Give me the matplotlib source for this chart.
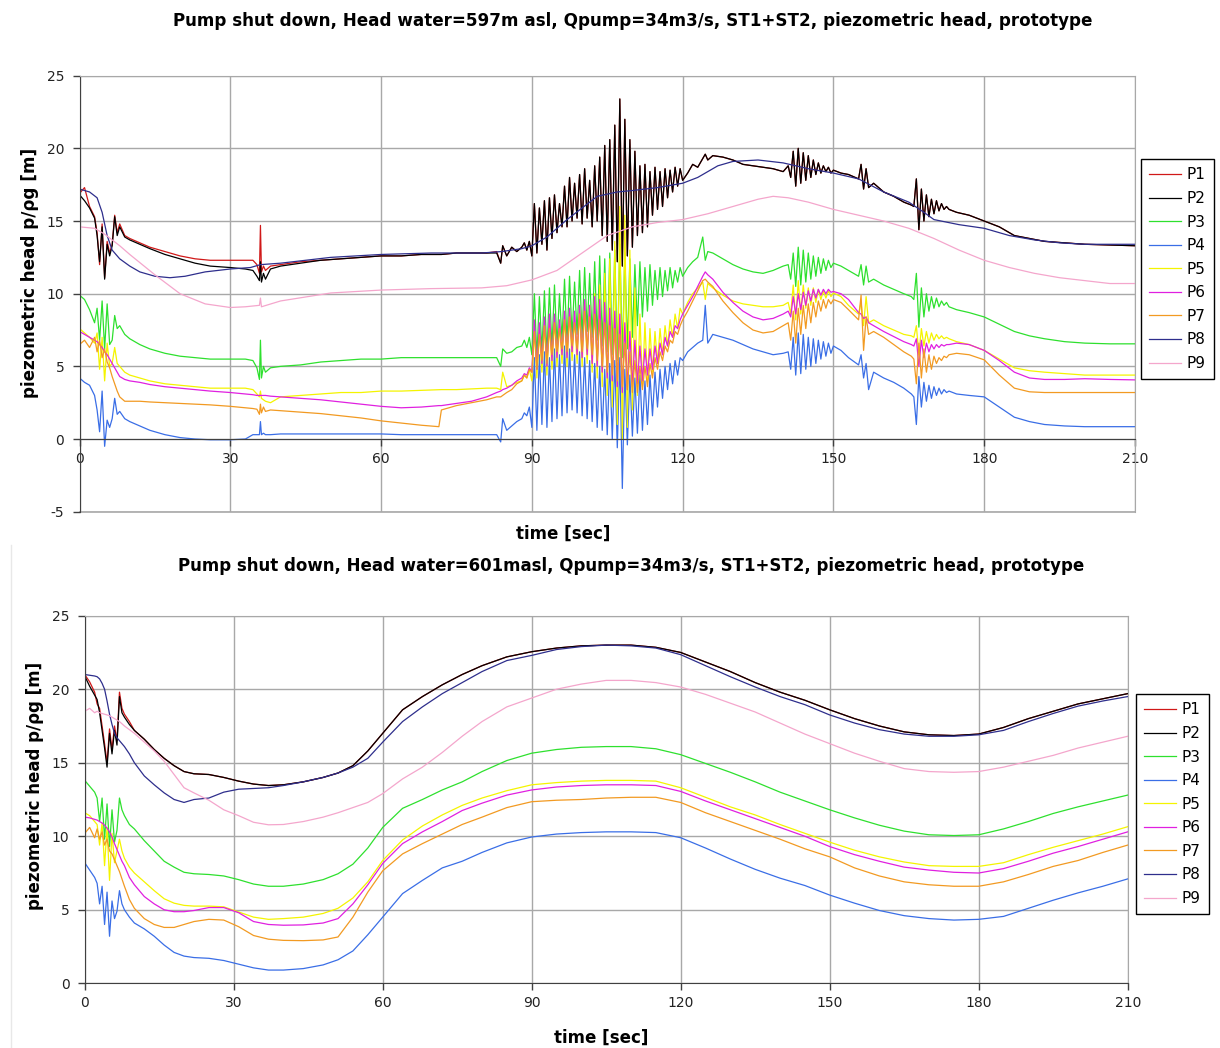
import matplotlib.pyplot as plt
from matplotlib.lines import Line2D

plt.rcParams['font.family'] = ['DejaVu Sans']
plt.rcParams['axes.unicode_minus'] = False

names = ['P1', 'P2', 'P3', 'P4', 'P5', 'P6', 'P7', 'P8', 'P9']
colors = ['#d01818', '#000000', '#2ee02e', '#3a6ee6', '#f4f400',
          '#e020e0', '#f29a22', '#2e2e8c', '#f4a6cc']

# ---------------- upper chart: head water 597 m asl ----------------
# shared time axis for P1..P7 (dense where the signals oscillate)
t_top = [0, 1, 2, 3, 3.5, 4, 4.5, 5, 5.5, 6, 6.5, 7, 7.5, 8, 9,
         10, 12, 14, 17, 20, 23, 26, 30, 33, 34.5,
         35.3, 35.8, 36.0, 36.2, 36.6, 37, 38,
         40, 44, 48, 52, 56, 60, 64, 68, 71.5, 72, 75, 78, 81, 83,
         83.8, 84.2, 85, 86, 87,
         88, 88.5, 89, 89.5, 90, 90.5, 91, 91.5, 92,
         92.5, 93, 93.5, 94, 94.5, 95, 95.5, 96, 96.5,
         97, 97.5, 98, 98.5, 99, 99.5, 100, 100.5, 101,
         101.5, 102, 102.5, 103, 103.5, 104, 104.5, 105, 105.5,
         106, 106.5, 107, 107.5, 108, 108.5, 109, 109.5, 110,
         110.5, 111, 111.5, 112, 112.5, 113, 113.5, 114, 114.5,
         115, 115.5, 116, 116.5, 117, 117.5, 118, 118.5, 119,
         119.5, 120,
         121, 122, 123, 124, 124.5, 125, 126, 128, 130, 132, 134, 136, 138, 140,
         141, 141.5, 142, 142.5, 143, 143.5, 144, 144.5, 145, 145.5,
         146, 146.5, 147, 147.5, 148, 148.5, 149, 149.5, 150,
         151.5, 153, 155, 155.5, 156, 156.5, 157, 158, 160, 162, 164, 165.5,
         166, 166.5, 167, 167.5, 168, 168.5, 169, 169.5, 170, 170.5, 171, 171.5,
         172, 172.5, 173,
         174.5, 177, 180, 183, 186, 189, 192, 196, 200, 205, 210]

p2_top = [16.8, 16.4, 15.9, 15.2, 14.0, 12.2, 14.6, 11.0, 13.4, 12.6, 13.3, 15.3, 14.0, 14.6, 13.9,
          13.7, 13.4, 13.1, 12.7, 12.4, 12.1, 11.9, 11.8, 11.7, 11.6,
          11.2, 10.9, 12.2, 10.8, 11.4, 11.0, 11.7,
          11.9, 12.1, 12.3, 12.4, 12.5, 12.6, 12.6, 12.7, 12.7, 12.7, 12.8, 12.8, 12.8, 12.8,
          12.1, 13.3, 12.6, 13.2, 12.9,
          13.2, 13.5, 13.0, 13.6, 12.6, 16.2, 12.8, 15.9, 13.4,
          16.4, 13.0, 16.6, 13.8, 16.8, 14.2, 16.2, 14.6, 17.4,
          14.6, 18.0, 15.0, 17.6, 15.2, 18.2, 14.8, 18.6, 15.2,
          17.8, 14.6, 18.8, 15.0, 19.4, 14.0, 20.2, 13.6, 20.6,
          13.0, 21.6, 12.2, 23.4, 11.9, 22.0, 12.6, 20.6, 13.2,
          19.8, 14.0, 18.8, 14.2, 18.9, 14.6, 18.4, 15.4, 18.7,
          15.8, 18.4, 16.0, 18.6, 16.6, 18.5, 17.0, 18.7, 17.4,
          18.6, 17.8,
          18.3, 18.9, 18.7, 19.3, 19.6, 19.2, 19.5, 19.4, 19.2, 18.9, 18.8, 18.7, 18.6, 18.4,
          18.8, 18.0, 19.8, 17.4, 20.0, 17.6, 19.7, 17.8, 19.5, 18.0,
          19.2, 18.2, 19.0, 18.3, 18.8, 18.4, 18.7, 18.3, 18.5,
          18.3, 18.2, 17.9, 18.9, 17.2, 18.6, 17.3, 17.6, 17.0, 16.7, 16.3, 16.1,
          16.0, 17.9, 14.4, 17.2, 15.0, 16.8, 15.3, 16.5, 15.5, 16.4, 15.7, 16.2,
          15.8, 16.0, 15.8,
          15.6, 15.4, 15.0, 14.6, 14.0, 13.8, 13.6, 13.5, 13.4, 13.35, 13.3]

# P1 differs from P2 only during the first 83 s, afterwards the two coincide
p1_top_start = [16.9, 17.3, 16.0, 15.3, 14.2, 12.0, 14.8, 11.1, 13.6, 12.8, 13.4, 15.4, 14.2, 14.8, 14.0,
                13.8, 13.5, 13.2, 12.9, 12.6, 12.4, 12.3, 12.3, 12.3, 12.3,
                12.0, 11.4, 14.7, 11.5, 11.9, 11.6, 11.9,
                12.0, 12.2, 12.3, 12.4, 12.5, 12.6, 12.6, 12.7, 12.7, 12.7, 12.8, 12.8, 12.8, 12.9]
p1_top = p1_top_start + p2_top[len(p1_top_start):]

p3_top = [9.9, 9.6, 8.9, 8.0, 9.0, 6.8, 9.5, 6.2, 9.3, 6.5, 6.8, 8.5, 7.6, 7.8, 7.2,
          6.9, 6.5, 6.2, 5.9, 5.7, 5.6, 5.5, 5.5, 5.5, 5.4,
          4.9, 4.1, 6.8, 4.2, 5.0, 4.6, 4.9,
          5.0, 5.1, 5.3, 5.4, 5.5, 5.5, 5.6, 5.6, 5.6, 5.6, 5.6, 5.6, 5.6, 5.6,
          5.0, 6.2, 5.9, 6.0, 6.3,
          6.4, 6.8, 6.3, 7.0, 5.8, 10.0, 5.6, 9.8, 6.0,
          10.2, 5.8, 10.4, 6.2, 10.6, 6.4, 10.0, 6.8, 11.0,
          6.6, 11.2, 7.0, 10.8, 7.2, 11.6, 7.0, 11.8, 7.4,
          11.4, 7.0, 12.2, 6.8, 12.6, 6.4, 12.4, 6.0, 12.8,
          5.8, 13.0, 5.4, 13.4, 5.6, 12.8, 6.2, 12.4, 7.0,
          12.0, 7.8, 12.2, 8.4, 11.8, 8.8, 12.0, 9.2, 11.6,
          9.6, 11.8, 9.8, 11.6, 10.2, 11.8, 10.4, 11.6, 10.8,
          11.8, 11.2,
          11.8, 12.2, 12.5, 13.9, 12.3, 12.9, 12.8, 12.4, 12.0, 11.7, 11.5, 11.4, 11.6, 11.9,
          12.0, 11.0, 12.8, 10.5, 13.2, 10.6, 13.0, 10.8, 12.8, 11.0,
          12.6, 11.2, 12.5, 11.4, 12.4, 11.6, 12.3, 11.8, 12.1,
          11.9, 11.6, 11.2, 12.0, 10.6, 11.9, 10.8, 11.0, 10.6, 10.3, 10.0, 9.8,
          9.6, 11.4, 7.7, 10.4, 8.4, 10.0, 8.8, 9.8, 9.0, 9.7, 9.1, 9.5,
          9.2, 9.4, 9.1,
          8.9, 8.7, 8.4, 7.9, 7.4, 7.1, 6.9, 6.7, 6.6, 6.55, 6.55]

p4_top = [4.2, 3.9, 3.7, 3.0, 2.0, 0.5, 3.3, -0.5, 1.3, 0.8, 1.4, 2.8, 1.7, 1.9, 1.4,
          1.2, 0.9, 0.6, 0.3, 0.1, 0.0, -0.05, -0.05, 0.0, 0.3,
          0.3, 0.3, 1.2, 0.3, 0.4, 0.3, 0.3,
          0.35, 0.35, 0.35, 0.35, 0.35, 0.35, 0.3, 0.3, 0.3, 0.3, 0.3, 0.3, 0.3, 0.3,
          -0.2, 1.4, 0.6, 0.9, 1.2,
          1.4, 1.8, 1.6, 2.2, 0.8, 5.6, 0.6, 5.8, 1.0,
          6.0, 0.8, 5.6, 1.2, 6.2, 1.4, 5.8, 1.6, 6.4,
          1.8, 6.2, 2.0, 5.8, 1.8, 6.0, 1.6, 5.6, 1.4,
          5.4, 1.2, 5.2, 0.8, 5.0, 0.6, 4.8, 0.3, 5.2,
          0.0, 5.4, -0.6, 5.6, -3.4, 4.8, -0.4, 4.4, 0.2,
          4.2, 0.4, 4.4, 0.6, 4.0, 1.0, 4.4, 1.6, 4.6,
          2.2, 4.8, 2.8, 5.0, 3.4, 5.2, 3.8, 5.4, 4.4,
          5.6, 5.4,
          6.0, 6.3, 6.6, 6.8, 9.2, 6.6, 7.2, 7.0, 6.8, 6.5, 6.2, 6.0, 5.8, 5.9,
          6.0, 4.8, 7.0, 4.4, 7.3, 4.5, 7.2, 4.8, 7.0, 5.0,
          6.9, 5.2, 6.8, 5.5, 6.7, 5.7, 6.6, 5.9, 6.4,
          6.1, 5.6, 5.1, 5.8, 4.2, 5.2, 3.4, 4.6, 4.2, 3.9, 3.5, 3.1,
          2.9, 1.0, 4.3, 2.2, 3.9, 2.6, 3.7, 2.8, 3.6, 3.0, 3.5, 3.1,
          3.4, 3.2, 3.3,
          3.1, 3.0, 2.9, 2.2, 1.5, 1.2, 1.0, 0.9, 0.85, 0.85, 0.85]

p5_top = [7.6, 7.3, 7.0, 6.6, 7.3, 4.8, 7.0, 4.0, 6.6, 5.0, 5.2, 6.3, 5.2, 5.0, 4.6,
          4.4, 4.2, 4.0, 3.8, 3.7, 3.6, 3.5, 3.5, 3.5, 3.4,
          3.1, 2.9, 3.3, 2.8, 2.7, 2.6, 2.5,
          2.9, 3.0, 3.1, 3.2, 3.2, 3.3, 3.3, 3.35, 3.4, 3.4, 3.4, 3.45, 3.5, 3.5,
          3.4, 4.6, 3.6, 3.7, 3.9,
          4.0, 4.4, 4.2, 4.8, 4.0, 7.6, 4.2, 7.4, 4.6,
          7.8, 4.4, 8.0, 4.8, 8.2, 5.0, 7.8, 5.2, 8.4,
          5.0, 8.6, 5.4, 8.4, 5.2, 9.0, 5.0, 9.4, 5.2,
          9.2, 4.6, 10.0, 4.2, 10.6, 3.6, 11.4, 3.0, 12.4,
          2.2, 13.6, 1.0, 16.0, 0.0, 15.4, 0.8, 13.0, 2.0,
          10.4, 3.0, 8.6, 3.6, 8.0, 4.0, 7.6, 4.6, 7.4,
          5.2, 7.6, 5.8, 7.8, 6.4, 8.2, 7.0, 8.6, 7.6,
          9.0, 8.6,
          9.4, 10.0, 10.4, 10.8, 9.6, 10.7, 10.4, 9.9, 9.5, 9.3, 9.2, 9.1, 9.1, 9.2,
          9.4, 8.6, 10.6, 8.2, 10.9, 8.6, 10.6, 9.0, 10.4, 9.2,
          10.4, 9.4, 10.3, 9.6, 10.2, 9.7, 10.2, 9.8, 10.05,
          9.8, 9.2, 8.6, 9.4, 7.8, 9.8, 8.0, 8.2, 7.8, 7.5, 7.2, 7.1,
          7.0, 7.8, 5.8, 7.6, 6.4, 7.4, 6.6, 7.3, 6.8, 7.2, 6.9, 7.1,
          6.9, 7.0, 6.9,
          6.7, 6.5, 6.1, 5.5, 4.9, 4.7, 4.6, 4.5, 4.4, 4.4, 4.4]

p6_top = [7.4, 7.2, 7.0, 6.8, 6.7, 6.5, 6.3, 6.0, 5.8, 5.5, 5.2, 4.9, 4.6, 4.3, 4.1,
          4.0, 3.9, 3.75, 3.6, 3.5, 3.4, 3.3, 3.2, 3.1, 3.05,
          3.0, 3.0, 3.0, 3.0, 3.0, 3.0, 2.95,
          2.9, 2.8, 2.7, 2.55, 2.4, 2.25, 2.15, 2.2, 2.3, 2.3, 2.45, 2.6, 2.9, 3.2,
          3.3, 3.4, 3.5, 3.7, 4.0,
          4.2, 4.5, 4.4, 4.9, 4.6, 8.2, 4.8, 8.0, 5.2,
          8.4, 5.0, 8.6, 5.4, 8.6, 5.6, 8.2, 5.8, 8.8,
          5.6, 9.0, 6.0, 8.8, 5.8, 9.2, 5.6, 9.6, 5.8,
          9.2, 5.2, 9.8, 5.0, 9.6, 4.6, 9.4, 4.2, 9.0,
          4.0, 8.8, 3.6, 8.6, 3.2, 8.0, 3.4, 7.4, 3.6,
          6.8, 3.8, 6.4, 4.0, 6.2, 4.4, 6.2, 4.8, 6.4,
          5.2, 6.6, 5.8, 7.0, 6.4, 7.4, 7.0, 7.8, 7.6,
          8.2, 8.6,
          9.2, 9.8, 10.5, 11.2, 11.5, 11.3, 11.0, 10.1, 9.4, 8.8, 8.4, 8.2, 8.3, 8.6,
          8.8, 8.4, 9.8, 8.6, 10.0, 8.9, 10.1, 9.2, 10.2, 9.5,
          10.3, 9.7, 10.3, 9.9, 10.3, 10.0, 10.3, 10.1, 10.15,
          10.0, 9.6, 8.7, 8.6, 8.3, 8.4, 8.0, 7.8, 7.4, 7.05, 6.7, 6.5,
          6.4, 6.9, 5.0, 6.8, 5.6, 6.6, 6.0, 6.5, 6.2, 6.5, 6.3, 6.5,
          6.4, 6.5, 6.5,
          6.6, 6.5, 6.1, 5.4, 4.6, 4.2, 4.1, 4.1, 4.15, 4.1, 4.07]

p7_top = [6.5, 6.8, 6.3, 7.0, 6.0, 6.8, 5.6, 6.2, 5.3, 4.9, 4.3, 3.8, 3.3, 2.9, 2.6,
          2.6, 2.6, 2.55, 2.5, 2.45, 2.4, 2.35, 2.25, 2.15, 2.1,
          2.05, 1.7, 2.4, 1.8, 2.2, 1.9, 2.0,
          1.95, 1.85, 1.75, 1.6, 1.45, 1.25, 1.1, 0.95, 0.85, 2.0, 2.3, 2.5, 2.7, 2.9,
          2.9, 3.0, 3.2, 3.4, 3.8,
          4.0, 4.4, 4.2, 4.8, 4.6, 7.4, 4.8, 7.2, 5.4,
          7.8, 5.2, 7.6, 5.8, 8.0, 6.0, 7.6, 6.2, 8.2,
          6.0, 8.4, 6.4, 8.0, 6.2, 8.6, 6.0, 8.8, 6.2,
          8.4, 5.8, 8.6, 5.4, 8.2, 5.0, 8.0, 4.6, 7.8,
          4.4, 7.6, 4.0, 7.2, 3.6, 6.6, 3.4, 6.0, 3.2,
          5.4, 3.2, 5.0, 3.4, 5.0, 3.6, 5.2, 4.2, 5.6,
          4.8, 6.0, 5.4, 6.4, 6.0, 6.8, 6.6, 7.4, 7.2,
          7.8, 8.2,
          8.8, 9.5, 10.2, 10.9, 11.0, 10.8, 10.5, 9.5, 8.7, 8.0, 7.5, 7.3, 7.4, 7.8,
          8.0, 6.8, 8.8, 6.6, 9.0, 7.2, 9.2, 7.6, 9.3, 8.0,
          9.4, 8.4, 9.5, 8.8, 9.6, 9.0, 9.6, 9.3, 9.6,
          9.4, 8.9, 8.2, 9.9, 6.1, 8.4, 7.2, 7.4, 7.0, 6.5, 6.0, 5.7,
          5.5, 3.8, 6.6, 4.2, 6.2, 4.6, 5.8, 4.8, 5.7, 5.2, 5.6, 5.4,
          5.7, 5.6, 5.8,
          5.9, 5.8, 5.45, 4.4, 3.5, 3.25, 3.2, 3.2, 3.2, 3.2, 3.2]

t_top_p8 = [0, 2, 3.5, 4.5, 5.5, 6.5, 8, 10, 12, 15, 18, 21, 25, 30, 34, 36, 40, 50,
            60, 70, 80, 84, 88, 90, 93, 97, 100, 103, 107, 110, 115, 120, 123, 127,
            130, 135, 140, 145, 150, 155, 160, 165, 168, 170, 175, 180, 185, 190,
            195, 200, 210]
p8_top = [17.2, 17.0, 16.6, 15.6, 14.0, 13.0, 12.4, 11.9, 11.5, 11.2, 11.1, 11.2,
          11.5, 11.7, 11.8, 12.0, 12.1, 12.5, 12.7, 12.8, 12.8, 12.9, 13.1, 13.3,
          13.9, 15.1, 15.9, 16.7, 17.0, 17.1, 17.3, 17.6, 18.0, 18.8, 19.1, 19.2,
          19.0, 18.6, 18.3, 17.9, 17.0, 16.3, 15.6, 15.1, 14.75, 14.5, 14.0, 13.7,
          13.5, 13.4, 13.4]

t_top_p9 = [0, 3, 5, 8, 10, 15, 20, 25, 30, 33, 35.8, 36, 36.2, 40, 50, 60, 70, 80,
            85, 90, 95, 100, 105, 110, 115, 120, 125, 130, 135, 138, 141, 145, 150,
            155, 160, 165, 170, 175, 180, 185, 190, 195, 200, 205, 210]
p9_top = [14.6, 14.5, 14.1, 13.3, 12.7, 11.3, 10.0, 9.3, 9.05, 9.1, 9.2, 9.7, 9.1,
          9.5, 10.05, 10.25, 10.35, 10.4, 10.55, 10.95, 11.6, 12.8, 14.0, 14.6, 14.9,
          15.1, 15.5, 16.0, 16.5, 16.7, 16.6, 16.3, 15.8, 15.4, 15.0, 14.5, 13.8,
          13.0, 12.3, 11.8, 11.4, 11.1, 10.9, 10.7, 10.7]

# ---------------- lower chart: head water 601 m asl ----------------
t_bot = [0, 1, 2, 2.5, 3, 3.5, 4, 4.5, 5, 5.5, 6, 6.5, 7, 7.5, 8, 9,
         10, 12, 14, 16, 18, 20, 22, 25, 28, 31,
         34, 37, 40, 44, 48, 51, 54, 57, 60, 64,
         68, 72, 76, 80, 85, 90, 95, 100, 105, 110,
         115, 120, 125, 130, 135, 140, 145, 150, 155, 160,
         165, 170, 175, 180, 185, 190, 195, 200, 205, 210]

p2_bot = [20.9, 20.2, 19.6, 19.3, 18.4, 17.2, 16.0, 14.7, 17.0, 15.6, 17.2, 16.2, 19.5, 18.4, 18.1, 17.6,
          17.2, 16.6, 15.9, 15.3, 14.8, 14.4, 14.25, 14.2, 14.0, 13.75,
          13.55, 13.45, 13.5, 13.7, 14.0, 14.3, 14.8, 15.8, 17.0, 18.6,
          19.5, 20.3, 21.0, 21.6, 22.2, 22.55, 22.8, 22.95, 23.0, 23.0,
          22.85, 22.5, 21.85, 21.2, 20.45, 19.8, 19.25, 18.6, 18.0, 17.5,
          17.1, 16.9, 16.85, 16.95, 17.4, 18.0, 18.5, 19.0, 19.35, 19.7]

p1_bot_start = [21.0, 20.5, 19.8, 19.0, 18.7, 17.5, 16.3, 15.0, 17.3, 15.9, 17.5, 16.5, 19.8, 18.7, 18.3, 17.8]
p1_bot = p1_bot_start + p2_bot[len(p1_bot_start):]

p3_bot = [13.8, 13.4, 13.0, 12.6, 11.0, 12.6, 9.8, 12.2, 9.3, 11.8, 9.6, 10.4, 12.6, 11.8, 11.4, 10.8,
          10.5, 9.7, 9.0, 8.3, 7.9, 7.55, 7.45, 7.4, 7.3, 7.05,
          6.75, 6.6, 6.6, 6.75, 7.05, 7.45, 8.1, 9.2, 10.6, 11.9,
          12.5, 13.15, 13.7, 14.4, 15.15, 15.65, 15.9, 16.05, 16.1, 16.1,
          15.95, 15.55, 14.95, 14.35, 13.7, 13.0, 12.4, 11.8, 11.25, 10.75,
          10.35, 10.1, 10.05, 10.1, 10.5, 11.0, 11.55, 12.0, 12.4, 12.8]

p4_bot = [8.2, 7.7, 7.2, 6.8, 5.4, 6.6, 4.0, 6.2, 3.2, 5.6, 4.4, 4.9, 6.3, 5.4, 5.0, 4.5,
          4.1, 3.7, 3.2, 2.6, 2.1, 1.85, 1.75, 1.7, 1.55, 1.3,
          1.05, 0.9, 0.9, 1.0, 1.25, 1.6, 2.2, 3.3, 4.5, 6.1,
          7.0, 7.85, 8.3, 8.9, 9.55, 9.95, 10.15, 10.25, 10.3, 10.3,
          10.25, 9.9, 9.2, 8.45, 7.75, 7.15, 6.65, 6.0, 5.45, 4.95,
          4.6, 4.4, 4.3, 4.35, 4.55, 5.1, 5.65, 6.15, 6.6, 7.1]

p5_bot = [11.6, 11.4, 11.0, 10.8, 9.4, 10.9, 8.0, 10.6, 7.0, 10.2, 8.2, 9.0, 9.8, 9.0, 8.5, 7.9,
          7.5, 6.9, 6.3, 5.75, 5.45, 5.3, 5.25, 5.25, 5.2, 4.85,
          4.5, 4.35, 4.4, 4.5, 4.75, 5.1, 5.8, 6.9, 8.35, 9.75,
          10.7, 11.45, 12.1, 12.6, 13.1, 13.5, 13.65, 13.75, 13.8, 13.8,
          13.75, 13.3, 12.65, 12.0, 11.45, 10.8, 10.2, 9.6, 9.05, 8.6,
          8.25, 8.0, 7.95, 7.95, 8.2, 8.75, 9.25, 9.7, 10.15, 10.65]

p6_bot = [11.3, 11.25, 11.15, 11.1, 11.0, 10.9, 10.75, 10.55, 10.3, 9.95, 9.5, 9.1, 8.7, 8.3, 8.0, 7.2,
          6.7, 5.9, 5.4, 5.0, 4.87, 4.87, 4.95, 5.15, 5.15, 4.8,
          4.2, 4.0, 3.95, 3.97, 4.1, 4.4, 5.4, 6.7, 8.15, 9.5,
          10.3, 11.0, 11.75, 12.25, 12.8, 13.15, 13.35, 13.45, 13.5, 13.5,
          13.45, 13.05, 12.4, 11.8, 11.2, 10.6, 10.0, 9.3, 8.75, 8.3,
          7.9, 7.7, 7.55, 7.5, 7.8, 8.3, 8.85, 9.3, 9.8, 10.3]

p7_bot = [10.2, 10.6, 9.9, 10.5, 9.8, 10.3, 9.4, 9.8, 9.0, 8.8, 8.4, 8.0, 7.6, 7.1, 6.6, 5.7,
          5.1, 4.4, 4.0, 3.8, 3.8, 4.0, 4.2, 4.35, 4.3, 3.85,
          3.25, 3.0, 2.92, 2.9, 2.95, 3.15, 4.5, 6.2, 7.65, 8.8,
          9.5, 10.15, 10.8, 11.3, 11.95, 12.35, 12.45, 12.5, 12.6, 12.65,
          12.65, 12.3, 11.6, 11.0, 10.4, 9.8, 9.15, 8.6, 7.85, 7.3,
          6.9, 6.7, 6.6, 6.6, 6.9, 7.4, 7.95, 8.35, 8.9, 9.4]

p8_bot = [21.0, 20.95, 20.9, 20.85, 20.7, 20.4, 20.0, 19.2, 18.3, 17.6, 17.0, 16.7, 16.5, 16.3, 16.1, 15.6,
          15.0, 14.1, 13.5, 12.95, 12.5, 12.3, 12.5, 12.6, 13.0, 13.2,
          13.25, 13.3, 13.45, 13.7, 14.0, 14.3, 14.7, 15.3, 16.4, 17.8,
          18.8, 19.7, 20.45, 21.2, 21.95, 22.3, 22.7, 22.9, 23.0, 22.95,
          22.8, 22.35, 21.6, 20.85, 20.15, 19.5, 18.95, 18.25, 17.7, 17.25,
          16.95, 16.8, 16.8, 16.9, 17.2, 17.8, 18.35, 18.85, 19.2, 19.5]

p9_bot = [18.5, 18.7, 18.4, 18.5, 18.4, 18.35, 18.3, 18.25, 18.2, 18.1, 18.0, 17.9, 17.8, 17.65, 17.5, 17.25,
          17.0, 16.4, 15.8, 15.1, 14.2, 13.3, 12.95, 12.45, 11.8, 11.4,
          10.95, 10.78, 10.8, 11.0, 11.3, 11.6, 11.95, 12.3, 12.9, 13.9,
          14.7, 15.7, 16.8, 17.8, 18.8, 19.4, 20.0, 20.35, 20.6, 20.6,
          20.45, 20.15, 19.65, 19.05, 18.45, 17.7, 16.95, 16.3, 15.65, 15.1,
          14.6, 14.4, 14.35, 14.4, 14.7, 15.1, 15.5, 16.0, 16.4, 16.8]

top_series = [(t_top, p1_top), (t_top, p2_top), (t_top, p3_top), (t_top, p4_top),
              (t_top, p5_top), (t_top, p6_top), (t_top, p7_top),
              (t_top_p8, p8_top), (t_top_p9, p9_top)]
bot_series = [(t_bot, p1_bot), (t_bot, p2_bot), (t_bot, p3_bot), (t_bot, p4_bot),
              (t_bot, p5_bot), (t_bot, p6_bot), (t_bot, p7_bot),
              (t_bot, p8_bot), (t_bot, p9_bot)]

title_top = 'Pump shut down, Head water=597m asl, Qpump=34m3/s, ST1+ST2, piezometric head, prototype'
title_bot = 'Pump shut down, Head water=601masl, Qpump=34m3/s, ST1+ST2, piezometric head, prototype'
ylabel = 'piezometric head p/\u03c1g [m]'
xlabel = 'time [sec]'

W, H = 1220, 1048
fig = plt.figure(figsize=(W / 100, H / 100), dpi=100)
fig.patch.set_facecolor('white')

grid_c = '#a8a8a8'
axis_c = '#404040'


def draw(ax, series, ymin, legend_xy):
    for (t, v), name, c in zip(series, names, colors):
        ax.plot(t, v, color=c, lw=0.9, label=name)
    ax.set_xlim(0, 210)
    ax.set_ylim(ymin, 25)
    ax.set_xticks(range(0, 211, 30))
    ax.set_yticks(range(ymin, 26, 5))
    ax.grid(True, color=grid_c, linewidth=1.0)
    ax.set_axisbelow(True)
    ax.spines['top'].set_color(grid_c)
    ax.spines['right'].set_color(grid_c)
    ax.spines['left'].set_color(axis_c)
    ax.spines['bottom'].set_color(axis_c)
    ax.spines['bottom'].set_position(('data', 0))
    ax.tick_params(axis='both', direction='out', length=5, width=1,
                   color=axis_c, labelsize=10, labelcolor='#222222')
    ax.tick_params(axis='y', pad=6)
    ax.tick_params(axis='x', pad=4)
    if ymin < 0:
        ax.axhline(ymin, color=grid_c, lw=1.2, clip_on=False, zorder=0)
    leg = ax.legend(loc='upper left', bbox_to_anchor=legend_xy,
                    bbox_transform=fig.transFigure, borderaxespad=0,
                    fontsize=11, frameon=True, fancybox=False,
                    edgecolor='black', framealpha=1, handlelength=2.1,
                    handletextpad=0.35, labelspacing=0.56, borderpad=0.55)
    leg.get_frame().set_linewidth(1.0)


ax1 = fig.add_axes([79.5 / W, 1 - 511.7 / H, (1135 - 79.5) / W, (511.7 - 75.7) / H])
draw(ax1, top_series, -5, (1141 / W, 1 - 159 / H))

ax2 = fig.add_axes([84.7 / W, 1 - 983.3 / H, (1127.7 - 84.7) / W, (983.3 - 615.7) / H])
draw(ax2, bot_series, 0, (1136 / W, 1 - 694 / H))

fig.text(633 / W, 1 - 21 / H, title_top, ha='center', va='center',
         fontsize=12.1, fontweight='bold')
fig.text(631 / W, 1 - 566 / H, title_bot, ha='center', va='center',
         fontsize=12.0, fontweight='bold')
fig.text(563 / W, 1 - 534 / H, xlabel, ha='center', va='center',
         fontsize=12, fontweight='bold')
fig.text(601 / W, 1 - 1038 / H, xlabel, ha='center', va='center',
         fontsize=12, fontweight='bold')
fig.text(30 / W, 1 - 273 / H, ylabel, ha='center', va='center', rotation=90,
         fontsize=12.1, fontweight='bold')
fig.text(35 / W, 1 - 786 / H, ylabel, ha='center', va='center', rotation=90,
         fontsize=12, fontweight='bold')

# faint border of the lower picture
fig.add_artist(Line2D([11 / W, 11 / W], [0, 1 - 545 / H], color='#e8e8e8', lw=1))

fig.savefig('out.png', dpi=100, facecolor='white')
